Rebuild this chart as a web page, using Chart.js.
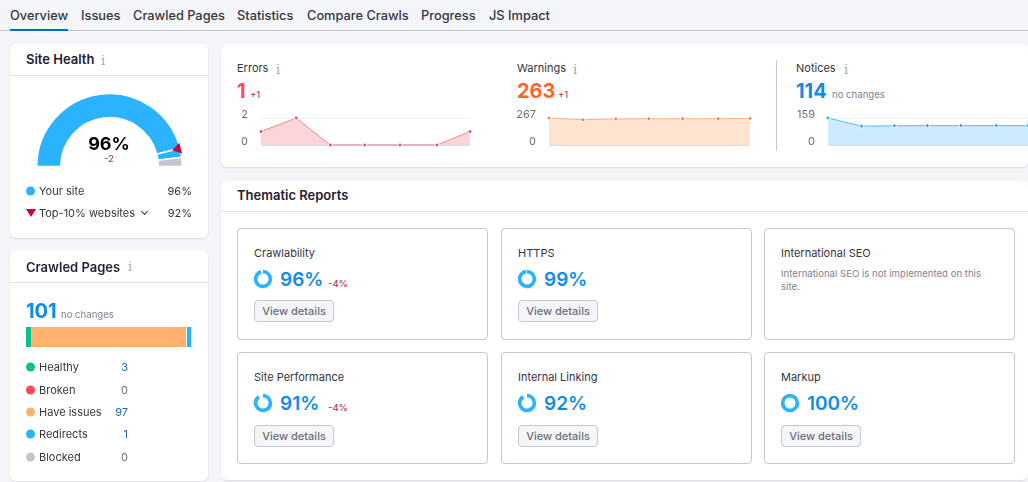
<!DOCTYPE html>
<html>
<head>
<meta charset="utf-8">
<script src="https://cdn.jsdelivr.net/npm/chart.js@4"></script>
<style>
html,body{margin:0;padding:0;}
body{width:1028px;height:482px;overflow:hidden;background:#f4f5f9;position:relative;font-family:Inter,"Noto Sans",sans-serif;color:#333541;}
.abs,.card,.box,canvas{position:absolute;}
.card{background:#fff;border-radius:6px;box-shadow:0 1px 2px rgba(30,35,60,.12);}
.box{width:249px;height:110px;background:#fff;border:1px solid #c4c7cf;border-radius:4px;}
.line{position:absolute;background:#e0e1e9;}
.t{position:absolute;white-space:nowrap;transform:translateY(-50%);line-height:1.2;}
.r{transform:translate(-100%,-50%);}
.nav{font-size:12.8px;font-weight:500;color:#333541;}
.head{font-size:13px;font-weight:600;color:#1f2130;}
.lab{font-size:11px;color:#333541;}
.num{font-size:20px;font-weight:700;}
.sm{font-size:9.6px;}
.gray{color:#7f818d;}
.dn{color:#b5264a;}
.pct{font-size:19px;font-weight:600;color:#0f8ce9;}
.btn{position:absolute;width:78px;height:20px;line-height:20px;text-align:center;font-size:11px;font-weight:500;color:#6c6e79;background:#f4f5f9;border:1px solid #c4c7cf;border-radius:4px;}
.dot{position:absolute;width:9px;height:9px;border-radius:50%;transform:translateY(-50%);}
.tri{position:absolute;width:0;height:0;border-left:5px solid transparent;border-right:5px solid transparent;border-top:8px solid #c8003c;transform:translateY(-50%);}
.chev{position:absolute;left:142px;top:209px;width:4px;height:4px;border-right:1.5px solid #333541;border-bottom:1.5px solid #333541;transform:rotate(45deg);}
.i{font-family:"DejaVu Serif",serif;font-size:13px;color:#a4a6b3;}
</style>
</head>
<body>
<div class="line" style="left:0;top:30px;width:1028px;height:1px;background:#c4c7cf"></div>
<div class="line" style="left:10px;top:29px;width:58px;height:2px;background:#006dca"></div>

<div class="card" style="left:10px;top:44px;width:198px;height:194px"></div>
<div class="line" style="left:10px;top:75px;width:198px;height:1px"></div>
<div class="card" style="left:10px;top:250px;width:198px;height:231px"></div>
<div class="line" style="left:10px;top:282px;width:198px;height:1px"></div>
<div class="card" style="left:221px;top:44px;width:807px;height:123px"></div>
<div class="line" style="left:776px;top:60px;width:1px;height:91px;background:#c4c7cf"></div>
<div class="card" style="left:221px;top:181px;width:807px;height:299px"></div>
<div class="line" style="left:221px;top:211px;width:807px;height:1px"></div>
<div class="chev"></div>

<canvas id="gauge" width="159" height="88" style="left:30px;top:86px"></canvas>
<canvas id="pages" width="170" height="20" style="left:26px;top:327px"></canvas>
<canvas id="errors" width="249" height="44" style="left:226px;top:108px"></canvas>
<canvas id="warnings" width="241" height="44" style="left:514px;top:108px"></canvas>
<canvas id="notices" width="235" height="44" style="left:793px;top:108px"></canvas>

<script>
// nav + labels
const navLabels = ['Overview','Issues','Crawled Pages','Statistics','Compare Crawls','Progress','JS Impact']
const navX = [10,81,133,237,307,421,489]

// site health gauge
const gaugeLabels = ['Top-10% websites','Your site','Rest']
const gaugeValues = [92,4,4]
const siteHealth = '96%'
const siteHealthChange = '-2'
const topTenHealth = '92%'

// crawled pages bar
const pageCategories = ['Healthy','Broken','Have issues','Redirects','Blocked']
const pageValues = [3,0,97,1,0]
const pageColors = ['#0cc08c','#ff4953','#ffb26e','#2bb3ff','#c4c7cf']
const pagesTotal = 101

// issues sparklines
const crawlDays = [0,1.01,1.99,2.98,3.99,5.05,6]
const errorValues = [1,2,0,0,0,0,1]
const warningValues = [267,250,257,260,260,260,263]
const noticeValues = [159,111,113,114,114,114,114]
const errorTicks = [0,2]
const warningTicks = [0,267]
const noticeTicks = [0,159]

// thematic reports
const reportNames = ['Crawlability','HTTPS','International SEO','Site Performance','Internal Linking','Markup']
const reportScores = [96,99,null,91,92,100]
const reportChanges = ['-4%','',null,'-4%','',null]

function text(str,x,y,cls,css){
  const d = document.createElement('div')
  d.className = 't '+cls
  d.textContent = str
  d.style.left = x+'px'
  d.style.top = y+'px'
  if(css) d.style.cssText += css
  document.body.appendChild(d)
  return d
}
function dot(x,y,color){
  const d = document.createElement('div')
  d.className = 'dot'
  d.style.cssText = `left:${x}px;top:${y}px;background:${color}`
  document.body.appendChild(d)
}

navLabels.forEach((n,i)=>text(n,navX[i],15.5,'nav'))

// left column
text('Site Health',26,60,'head')
text('i',101,61,'i')
text(siteHealth,109,144,'',"font-size:18px;font-weight:700;color:#000;transform:translate(-50%,-50%)")
text(siteHealthChange,109,159,'sm dn','transform:translate(-50%,-50%)')
dot(26,191,'#2bb3ff')
text('Your site',39,192,'lab')
text(siteHealth,192,192,'lab r')
const tri = document.createElement('div')
tri.className = 'tri'
tri.style.cssText = 'left:26px;top:213px'
document.body.appendChild(tri)
text(gaugeLabels[0]+' ',39,214,'lab')
text(topTenHealth,192,214,'lab r')

text('Crawled Pages',26,267.5,'head')
text('i',128,267,'i')
text(pagesTotal,26,311,'num','color:#0f8ce9')
text('no changes',61,315,'sm gray')
const rowY = [367,390,412,434,457]
pageCategories.forEach((c,i)=>{
  dot(26,rowY[i],pageColors[i])
  text(c,39,rowY[i]+1,'lab')
  text(pageValues[i],128,rowY[i]+1,'lab r',pageValues[i]?'color:#1f6cb5':'color:#6c6e79')
})

// issue summaries
text('Errors',237,69,'lab')
text('i',276,70,'i')
text('1',237,91,'num','color:#ff4953')
text('+1',250,95,'sm dn')
text('Warnings',517,69,'lab')
text('i',573,70,'i')
text('263',517,91,'num','color:#ff642d','font-size:19.5px')
text('+1',558,95,'sm dn')
text('Notices',796,69,'lab')
text('i',844,70,'i')
text('114',796,91,'num','color:#0f8ce9')
text('no changes',832,95,'sm gray')

// thematic
text('Thematic Reports',237,196,'head')
const boxX = [237,501,764]
const boxY = [228,352]
reportNames.forEach((name,i)=>{
  const row = Math.floor(i/3)
  const x = boxX[i%3], y = boxY[row]
  const b = document.createElement('div')
  b.className = 'box'
  b.style.cssText = `left:${x}px;top:${y}px`
  document.body.appendChild(b)
  text(name,x+17,y+26,'lab')
  if(reportScores[i]===null){
    text('International SEO is not implemented on this',x+17,y+46,'sm gray')
    text('site.',x+17,y+59,'sm gray')
    return
  }
  const c = document.createElement('canvas')
  c.width = 20; c.height = 20
  c.style.cssText = `left:${x+16}px;top:${y+41}px`
  document.body.appendChild(c)
  new Chart(c,{
    type:'doughnut',
    data:{labels:['Score','Rest'],datasets:[{data:[reportScores[i],100-reportScores[i]],backgroundColor:['#2bb3ff','#ffffff'],borderWidth:0}]},
    options:{responsive:false,animation:false,radius:'92%',cutout:'60%',plugins:{legend:{display:false},tooltip:{enabled:false}}}
  })
  text(reportScores[i]+'%',x+43,y+52,'pct')
  if(reportChanges[i]) text(reportChanges[i],x+91,y+56,'sm dn')
  const v = document.createElement('div')
  v.className = 'btn'
  v.textContent = 'View details'
  v.style.cssText = `left:${x+17}px;top:${y+72+row}px`
  document.body.appendChild(v)
})

// red marker for the benchmark on the gauge
const benchMarker = {
  id:'benchMarker',
  afterDatasetsDraw(chart){
    const arc = chart.getDatasetMeta(0).data[0]
    const a = arc.endAngle, c = chart.ctx, R = arc.outerRadius
    const at = (r,o)=>[arc.x+Math.cos(a+o)*r, arc.y+Math.sin(a+o)*r]
    c.save()
    c.fillStyle = '#c8003c'
    c.beginPath()
    c.moveTo(...at(R-8,0))
    c.lineTo(...at(R+1,0.075))
    c.lineTo(...at(R+1,-0.075))
    c.closePath()
    c.fill()
    c.restore()
  }
}

new Chart(document.getElementById('gauge'),{
  type:'doughnut',
  data:{labels:gaugeLabels,datasets:[{data:gaugeValues,backgroundColor:['#2bb3ff','#2bb3ff','#c4c7cf'],borderColor:'#fff',borderWidth:1.5}]},
  options:{
    responsive:false,animation:false,rotation:-90,circumference:180,cutout:'67%',
    layout:{padding:6},
    plugins:{legend:{display:false},tooltip:{enabled:false}}
  },
  plugins:[benchMarker]
})

new Chart(document.getElementById('pages'),{
  type:'bar',
  data:{
    labels:['Pages'],
    datasets:pageCategories.map((c,i)=>({
      label:c,data:[pageValues[i]],backgroundColor:pageColors[i],
      minBarLength:pageValues[i]&&pageValues[i]<2?4:0,clip:false,
      borderColor:'#fff',borderWidth:c==='Have issues'?{left:1,right:1}:0,borderSkipped:false,
      barPercentage:1,categoryPercentage:1
    }))
  },
  options:{
    indexAxis:'y',responsive:false,animation:false,
    layout:{padding:{right:7.6}},
    scales:{
      x:{stacked:true,display:false,min:0,max:pagesTotal},
      y:{stacked:true,display:false}
    },
    plugins:{legend:{display:false},tooltip:{enabled:false}}
  }
})

function spark(id,values,tickVals,line,point,fill,rightPad){
  new Chart(document.getElementById(id),{
    type:'line',
    data:{datasets:[{
      data:values.map((v,i)=>({x:crawlDays[i],y:v})),
      borderColor:line,borderWidth:1,backgroundColor:fill,fill:'origin',tension:0,clip:false,
      pointRadius:2,pointBackgroundColor:point,pointBorderColor:'#fff',pointBorderWidth:1
    }]},
    options:{
      responsive:false,animation:false,
      layout:{autoPadding:false,padding:{top:10,bottom:7,right:rightPad,left:0}},
      scales:{
        x:{type:'linear',display:false,min:0,max:6},
        y:{
          min:tickVals[0],max:tickVals[1],
          afterFit(s){s.width=35},
          afterBuildTicks(s){s.ticks=tickVals.map(v=>({value:v}))},
          border:{display:false},
          grid:{tickLength:13,tickColor:'rgba(0,0,0,0)',lineWidth:c=>c.tick&&c.tick.value===0?2:1,color:c=>c.tick&&c.tick.value===0?'#dcdce4':'#eeeff3'},
          ticks:{padding:0,labelOffset:-3,color:'#6c6e79',font:{family:'Inter',size:11}}
        }
      },
      plugins:{legend:{display:false},tooltip:{enabled:false}}
    }
  })
}
spark('errors',errorValues,errorTicks,'#ea8d9a','#d9556b','#fdd5d8',5)
spark('warnings',warningValues,warningTicks,'#ffb27a','#e88a55','#ffe3d1',5)
spark('notices',noticeValues,noticeTicks,'#5cb8ec','#3aa6de','#cdebfd',0)
</script>
</body>
</html>
